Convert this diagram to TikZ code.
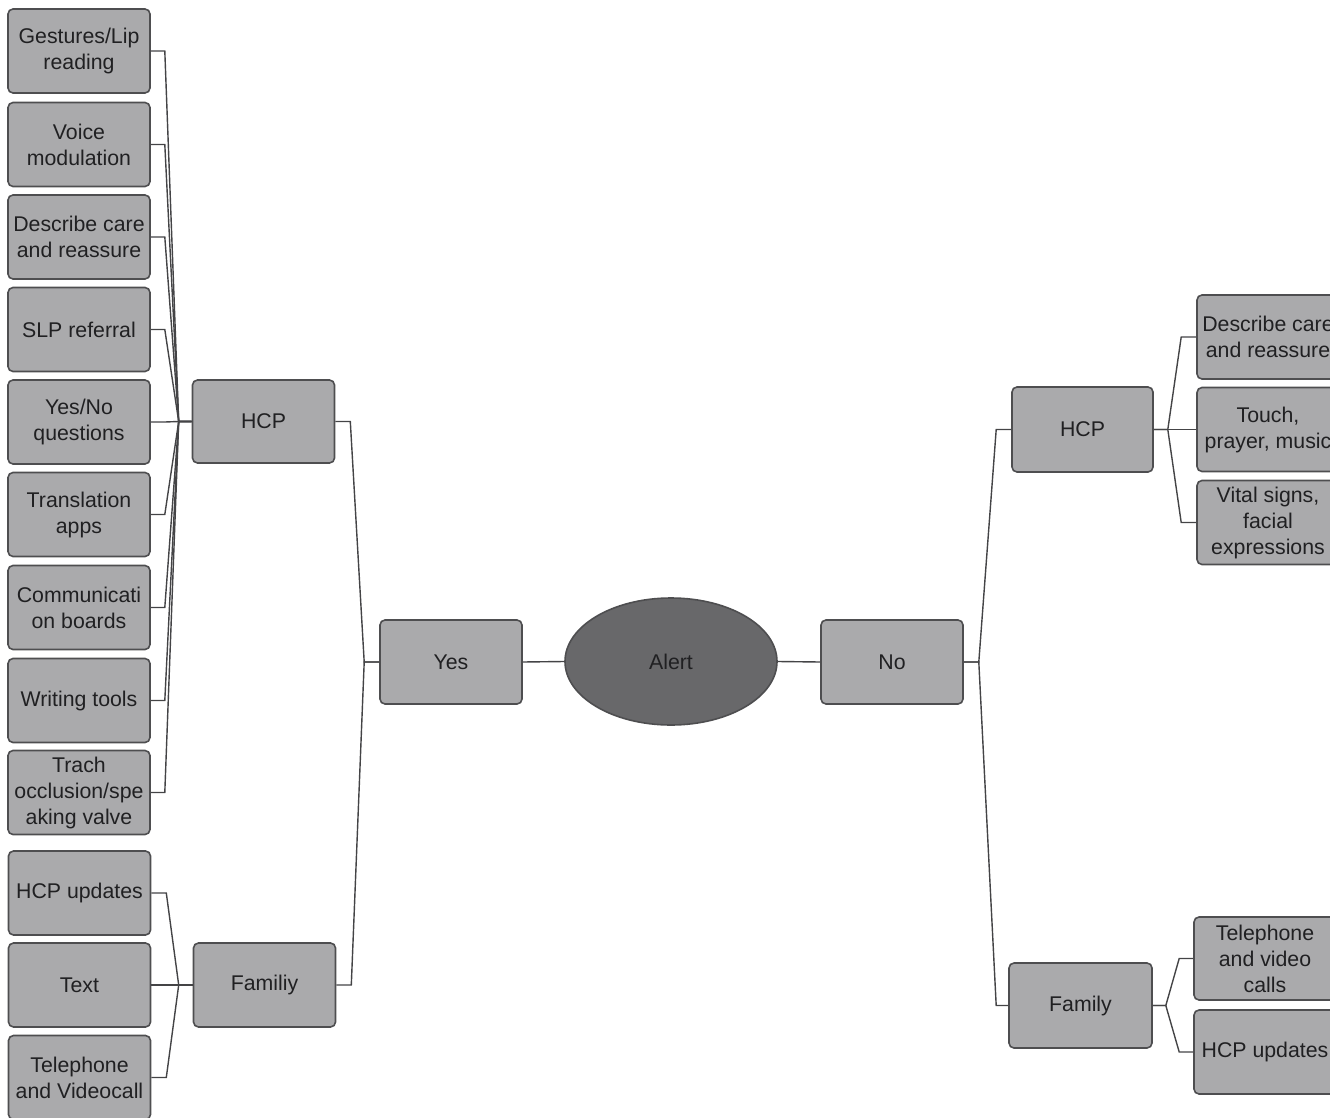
\documentclass[tikz,border=0pt]{standalone}
\usepackage{fontspec}
\setmainfont{Liberation Sans}
\usetikzlibrary{shapes.geometric,calc}
\definecolor{boxfill}{RGB}{170,170,172}
\definecolor{boxline}{RGB}{78,78,80}
\definecolor{ellfill}{RGB}{104,104,106}
\definecolor{txt}{RGB}{32,32,34}
\definecolor{wirec}{RGB}{68,68,70}
\begin{document}
\begin{tikzpicture}[x=1pt,y=-1pt,
  box/.style={draw=boxline, line width=1.6pt, fill=boxfill, rounded corners=5pt,
    minimum width=142pt, minimum height=84pt, inner sep=0pt, align=center,
    text=txt, font=\fontsize{21.3pt}{26pt}\selectfont},
  alertshape/.style={ellipse, draw=boxline, line width=1.6pt, fill=ellfill,
    minimum width=212pt, minimum height=127pt, inner sep=0pt,
    text=txt, font=\fontsize{21.3pt}{26pt}\selectfont},
  wire/.style={draw=wirec, line width=1.4pt, line join=miter},
]
\useasboundingbox (0,0) rectangle (1330,1118);

% left HCP children
\node[box] (g) at (79,51)    {Gestures/Lip\\reading};
\node[box] (v) at (79,144.5) {Voice\\modulation};
\node[box] (d) at (79,237)   {Describe care\\and reassure};
\node[box] (s) at (79,329.5) {SLP referral};
\node[box] (q) at (79,422)   {Yes/No\\questions};
\node[box] (t) at (79,514.5) {Translation\\apps};
\node[box] (m) at (79,607.5) {Communicati\\on boards};
\node[box] (w) at (79,700.5) {Writing tools};
\node[box] (o) at (79,792.5) {Trach\\occlusion/spe\\aking valve};

% left family children
\node[box] (fu) at (79.5,893)  {HCP updates};
\node[box] (fx) at (79.5,985)  {Text};
\node[box] (fp) at (79.5,1077.5) {Telephone\\and Videocall};

% left mid level
\node[box, minimum height=83pt] (hcpL) at (263.5,421.5) {HCP};
\node[box] (famL) at (264.5,985) {Familiy};

% centre
\node[box] (yes) at (451,662) {Yes};
\node[alertshape] (alert) at (671,661.5) {Alert};
\node[box] (no) at (892,662) {No};

% right mid level
\node[box, minimum width=141pt, minimum height=85pt] (hcpR) at (1082.5,429.5) {HCP};
\node[box, minimum width=143pt, minimum height=85pt] (famR) at (1080.5,1005.5) {Family};

% right children (cut at the right edge)
\node[box] (rd) at (1268,337)   {Describe care\\and reassure};
\node[box] (rt) at (1268,429.5) {Touch,\\prayer, music};
\node[box] (rv) at (1268,522.5) {Vital signs,\\facial\\expressions};
\node[box, minimum height=83pt] (rp) at (1265,958.5) {Telephone\\and video\\calls};
\node[box] (ru) at (1265,1052)  {HCP updates};

% connectors: left HCP
\coordinate (jH) at ($(hcpL.west)+(-13,0)$);
\foreach \n in {g,v,d,s,q,t,m,w,o}
  \draw[wire] (\n.east) -- ++(14,0) -- (jH) -- (hcpL.west);

% connectors: left family
\coordinate (jF) at ($(famL.west)+(-14,0)$);
\foreach \n in {fu,fx,fp}
  \draw[wire] (\n.east) -- ++(15,0) -- (jF) -- (famL.west);

% connectors: to Yes
\coordinate (jY) at ($(yes.west)+(-15,0)$);
\draw[wire] (hcpL.east) -- ++(15,0) -- (jY) -- (yes.west);
\draw[wire] (famL.east) -- ++(15,0) -- (jY) -- (yes.west);

% centre connectors
\draw[wire] (yes.east) -- (alert.west);
\draw[wire] (alert.east) -- (no.west);

% connectors: from No
\coordinate (jN) at ($(no.east)+(15,0)$);
\draw[wire] (no.east) -- (jN) -- ($(hcpR.west)+(-15,0)$) -- (hcpR.west);
\draw[wire] (no.east) -- (jN) -- ($(famR.west)+(-12,0)$) -- (famR.west);

% connectors: right HCP children
\coordinate (jR) at ($(hcpR.east)+(14,0)$);
\foreach \n in {rd,rt,rv}
  \draw[wire] (hcpR.east) -- (jR) -- ($(\n.west)+(-15,0)$) -- (\n.west);

% connectors: right family children
\coordinate (jRF) at ($(famR.east)+(13,0)$);
\foreach \n in {rp,ru}
  \draw[wire] (famR.east) -- (jRF) -- ($(\n.west)+(-14,0)$) -- (\n.west);
\end{tikzpicture}
\end{document}
